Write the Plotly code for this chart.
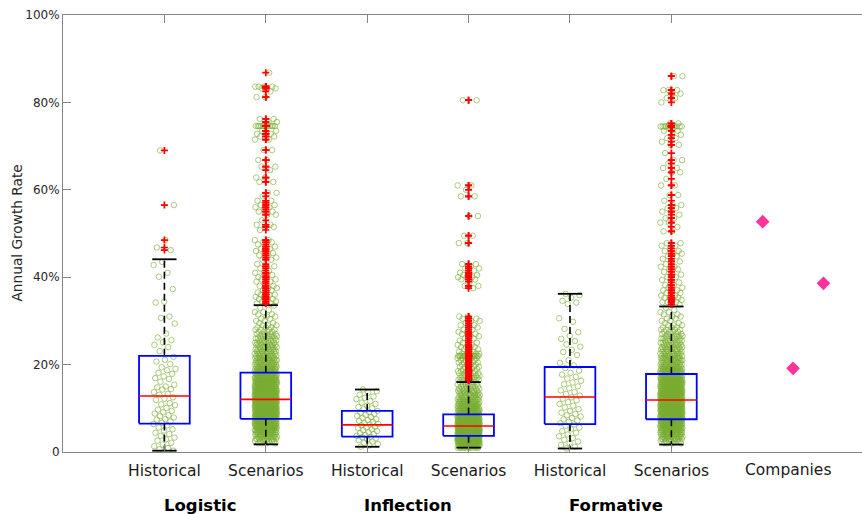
import numpy as np
import plotly.graph_objects as go

# ---------------- data (values in %) ----------------
categories = ["Historical", "Scenarios", "Historical", "Scenarios", "Historical", "Scenarios"]
groups = ["Logistic", "Inflection", "Formative"]
positions = [1, 2, 3, 4, 5, 6]

# box statistics
q1 = [6.5, 7.6, 3.5, 3.7, 6.4, 7.5]
median = [12.8, 12.05, 6.2, 5.95, 12.6, 11.9]
q3 = [22.0, 18.15, 9.4, 8.6, 19.45, 17.85]
whisk_lo = [0.3, 1.75, 1.2, 1.0, 0.8, 1.7]
whisk_hi = [44.1, 33.6, 14.3, 16.0, 36.2, 33.3]

hist_logistic = [69.0, 56.5, 48.5, 46.8, 46.2, 43.5, 42.8, 41.0, 40.1, 37.3, 34.4, 34.2, 31.0,
                 30.7, 29.4, 27.1, 26.2, 25.6, 25.1, 24.5, 24.0, 23.1, 21.8, 21.1, 20.7, 20.1,
                 19.4, 19.0, 18.7, 18.1, 17.9, 17.3, 16.9, 16.7, 16.1, 15.4, 15.0, 14.8, 14.4,
                 14.3, 13.7, 13.3, 13.1, 12.5, 12.2, 11.9, 11.2, 10.9, 10.7, 10.1, 9.7, 9.4,
                 9.1, 8.8, 8.4, 8.2, 7.9, 7.5, 7.4, 7.0, 6.7, 6.4, 6.1, 5.6, 5.2, 4.9, 4.4,
                 4.1, 3.7, 3.3, 2.9, 2.6, 2.1, 1.7, 1.3, 0.9, 0.6, 0.3]

hist_inflection = [14.3, 13.9, 13.6, 13.1, 12.7, 12.4, 12.1, 11.6, 11.3, 11.0, 10.6, 10.3, 10.0,
                   9.8, 9.4, 9.2, 9.0, 8.7, 8.5, 8.3, 8.0, 7.8, 7.5, 7.3, 7.1, 6.9, 6.6, 6.4,
                   6.3, 6.1, 5.8, 5.6, 5.5, 5.2, 5.0, 4.8, 4.5, 4.3, 4.1, 3.9, 3.7, 3.5, 3.4,
                   3.1, 2.9, 2.7, 2.4, 2.1, 1.8, 1.5, 1.2]

hist_formative = [36.2, 35.9, 35.3, 34.6, 34.2, 33.9, 30.6, 29.8, 28.2, 27.4, 26.6, 25.9, 25.4,
                  24.6, 24.1, 23.4, 22.9, 22.2, 21.0, 20.4, 19.8, 19.2, 18.6, 18.1, 17.7, 17.2,
                  16.8, 16.3, 15.9, 15.5, 15.0, 14.6, 14.1, 13.7, 13.3, 12.9, 12.5, 12.2, 11.8,
                  11.4, 11.0, 10.6, 10.2, 9.8, 9.4, 9.0, 8.7, 8.4, 8.1, 7.8, 7.5, 7.2, 6.9, 6.6,
                  6.3, 6.0, 5.6, 5.2, 4.8, 4.4, 4.0, 3.6, 3.2, 2.8, 2.4, 2.0, 1.6, 1.2, 0.8]

# scenario samples: value (%) and how many points sit at that value
scen_logistic_vals = [2.0, 2.5, 3.0, 3.5, 4.0, 4.5, 5.0, 5.5, 6.0, 6.5, 7.0, 7.5, 8.0, 8.5, 9.0,
                      9.5, 10.0, 10.5, 11.0, 11.5, 12.0, 12.5, 13.0, 13.5, 14.0, 14.5, 15.0, 15.5,
                      16.0, 16.5, 17.0, 17.5, 18.0, 18.5, 19.0, 19.5, 20.0, 20.5, 21.0, 21.5, 22.0,
                      22.5, 23.0, 23.5, 24.0, 24.5, 25.0, 25.5, 26.0, 26.5, 27.0, 27.5, 28.0, 28.5,
                      29.0, 29.5, 30.0, 30.5, 31.0, 31.5, 32.0, 32.5, 33.0, 33.5,
                      34.0, 34.5, 35.0, 35.5, 36.0, 36.5, 37.0, 37.5, 38.0, 38.5, 39.0, 39.5, 40.0,
                      40.5, 41.0, 41.5, 42.0, 42.5, 43.0, 44.0, 44.5, 45.0, 45.5, 46.0, 46.5, 47.0,
                      47.5, 48.0, 48.5, 50.8, 51.5, 52.0, 53.0, 54.3, 55.0, 55.5, 56.0, 56.5, 57.0,
                      57.5, 58.5, 59.3, 61.8, 62.8, 64.5, 65.3, 66.8, 69.1, 71.5, 72.2, 72.8, 73.5,
                      74.6, 75.5, 76.2, 81.2, 82.5, 83.2, 83.6, 86.8]
scen_logistic_counts = [4, 7, 9, 11, 13, 15, 17, 19, 21, 22, 24, 25, 26, 27, 28,
                        28, 29, 29, 29, 29, 29, 28, 28, 27, 26, 25, 24, 23,
                        22, 21, 20, 18, 16, 14, 13, 12, 11, 11, 10, 10, 9,
                        9, 8, 8, 7, 7, 7, 7, 6, 6, 5, 4, 4, 3,
                        3, 2, 2, 2, 2, 2, 2, 1, 1, 1,
                        3, 2, 3, 2, 3, 2, 2, 2, 2, 1, 2, 2, 2,
                        1, 2, 1, 1, 2, 1, 2, 1, 2, 1, 2, 2, 2,
                        1, 2, 2, 1, 2, 2, 1, 2, 2, 1, 2, 2, 1,
                        2, 1, 2, 2, 2, 1, 2, 2, 2, 2, 2, 3, 2,
                        12, 2, 2, 2, 1, 3, 4, 1]

scen_inflection_vals = [1.0, 1.5, 2.0, 2.5, 3.0, 3.5, 4.0, 4.5, 5.0, 5.5, 6.0, 6.5, 7.0, 7.5, 8.0,
                        8.5, 9.0, 9.5, 10.0, 10.5, 11.0, 11.5, 12.0, 12.5, 13.0, 13.5, 14.0, 14.5,
                        15.0, 15.5, 16.0,
                        16.5, 17.0, 17.5, 18.0, 18.5, 19.0, 19.5, 20.0, 20.5, 21.0, 21.5, 22.0, 22.5,
                        23.0, 23.5, 24.0, 24.5, 25.0, 25.5, 26.0, 26.5, 27.0, 27.5, 28.0, 28.5, 29.0,
                        29.5, 30.0, 30.5, 31.0, 37.5, 38.0, 39.0, 39.5, 40.0, 40.5, 41.0, 41.5, 42.0,
                        42.5, 43.0, 47.8, 49.5, 54.0, 58.5, 60.0, 61.0, 80.5]
scen_inflection_counts = [12, 20, 28, 34, 38, 40, 40, 40, 40, 40, 38, 36, 33, 30, 27,
                          24, 20, 17, 15, 14, 13, 12, 11, 10, 9, 8, 8, 7,
                          6, 5, 4,
                          6, 6, 5, 5, 5, 4, 4, 4, 4, 4, 5, 16, 4,
                          3, 3, 3, 2, 2, 2, 2, 2, 2, 2, 2, 2, 2,
                          1, 2, 2, 2, 1, 2, 1, 2, 3, 2, 2, 1, 2,
                          1, 2, 2, 2, 2, 2, 1, 2, 2]

scen_formative_vals = [2.0, 2.5, 3.0, 3.5, 4.0, 4.5, 5.0, 5.5, 6.0, 6.5, 7.0, 7.5, 8.0, 8.5, 9.0,
                       9.5, 10.0, 10.5, 11.0, 11.5, 12.0, 12.5, 13.0, 13.5, 14.0, 14.5, 15.0, 15.5,
                       16.0, 16.5, 17.0, 17.5, 18.0, 18.5, 19.0, 19.5, 20.0, 20.5, 21.0, 21.5, 22.0,
                       22.5, 23.0, 23.5, 24.0, 24.5, 25.0, 25.5, 26.0, 26.5, 27.0, 27.5, 28.0, 28.5,
                       29.0, 29.5, 30.0, 30.5, 31.0, 31.5, 32.0, 32.5, 33.0,
                       33.8, 34.3, 34.8, 35.3, 35.8, 36.4, 37.0, 37.6, 38.2, 38.8, 39.4, 40.0, 40.6,
                       41.2, 41.8, 42.4, 43.0, 43.6, 44.2, 44.8, 45.4, 46.0, 46.6, 47.2, 47.8, 50.5,
                       51.5, 52.5, 53.5, 54.3, 55.0, 55.8, 56.5, 57.5, 58.8, 61.0, 62.5, 64.0, 65.0,
                       66.0, 66.8, 68.4, 70.3, 71.0, 71.8, 72.6, 73.5, 74.5, 75.2, 80.0, 81.0, 82.0,
                       82.8, 86.0]
scen_formative_counts = [4, 7, 10, 12, 13, 16, 17, 19, 21, 22, 24, 25, 26, 27, 28,
                         29, 29, 29, 29, 29, 29, 28, 28, 27, 26, 25, 23, 23,
                         22, 20, 20, 18, 16, 14, 13, 12, 11, 10, 10, 10, 9,
                         9, 8, 8, 7, 7, 7, 6, 6, 6, 5, 4, 4, 3,
                         3, 2, 2, 2, 2, 2, 2, 1, 1,
                         2, 3, 2, 3, 2, 2, 3, 2, 2, 1, 2, 2, 2,
                         1, 2, 2, 1, 2, 1, 2, 2, 2, 1, 2, 2, 2,
                         1, 2, 2, 1, 2, 2, 2, 1, 2, 2, 1, 2, 2,
                         1, 2, 1, 2, 1, 2, 2, 2, 12, 2, 1, 2, 2,
                         3, 2]

company_values = [52.7, 19.15, 38.6]
company_x = [6.9, 7.2, 7.5]

y_tick_vals = [0, 20, 40, 60, 80, 100]
y_tick_text = ["0", "20%", "40%", "60%", "80%", "100%"]

# ---------------- assemble samples ----------------
samples = [
    np.array(hist_logistic),
    np.repeat(scen_logistic_vals, scen_logistic_counts),
    np.array(hist_inflection),
    np.repeat(scen_inflection_vals, scen_inflection_counts),
    np.array(hist_formative),
    np.repeat(scen_formative_vals, scen_formative_counts),
]

JW = 0.22      # total horizontal jitter width (x units)
BW = 0.5       # box width
CW = 0.24      # cap width

fig = go.Figure()

# jittered data points
px_all, py_all = [], []
for pos, s in zip(positions, samples):
    n = len(s)
    off = ((np.arange(n) * 0.6180339887 + 0.31) % 1.0 - 0.5) * JW
    px_all.extend(pos + off)
    py_all.extend(s)
green = "rgba(119,172,48,0.62)"
fig.add_trace(go.Scatter(
    x=px_all, y=py_all, mode="markers",
    marker=dict(symbol="circle-open", size=5.5, color=green,
                line=dict(width=1, color=green)),
    hoverinfo="skip", showlegend=False))

# whiskers (dashed)
wx, wy = [], []
for p, a, b, lo, hi in zip(positions, q1, q3, whisk_lo, whisk_hi):
    wx += [p, p, None, p, p, None]
    wy += [b, hi, None, a, lo, None]
fig.add_trace(go.Scatter(x=wx, y=wy, mode="lines",
                         line=dict(color="black", width=1.6, dash="7px,4px"),
                         hoverinfo="skip", showlegend=False))

# caps
cx, cy = [], []
for p, lo, hi in zip(positions, whisk_lo, whisk_hi):
    cx += [p - CW / 2, p + CW / 2, None, p - CW / 2, p + CW / 2, None]
    cy += [hi, hi, None, lo, lo, None]
fig.add_trace(go.Scatter(x=cx, y=cy, mode="lines",
                         line=dict(color="black", width=1.8),
                         hoverinfo="skip", showlegend=False))

# boxes
bx, by = [], []
for p, a, b in zip(positions, q1, q3):
    bx += [p - BW / 2, p + BW / 2, p + BW / 2, p - BW / 2, p - BW / 2, None]
    by += [a, a, b, b, a, None]
fig.add_trace(go.Scatter(x=bx, y=by, mode="lines",
                         line=dict(color="#0000FF", width=1.8),
                         hoverinfo="skip", showlegend=False))

# medians
mx, my = [], []
for p, m in zip(positions, median):
    mx += [p - BW / 2, p + BW / 2, None]
    my += [m, m, None]
fig.add_trace(go.Scatter(x=mx, y=my, mode="lines",
                         line=dict(color="#FF0000", width=1.6),
                         hoverinfo="skip", showlegend=False))

# outliers
ox, oy = [], []
for p, s, lo, hi in zip(positions, samples, whisk_lo, whisk_hi):
    o = s[(s > hi) | (s < lo)]
    ox += [p] * len(o)
    oy += list(o)
fig.add_trace(go.Scatter(x=ox, y=oy, mode="markers",
                         marker=dict(symbol="cross-thin", size=5,
                                     line=dict(width=1.7, color="#FF0000")),
                         hoverinfo="skip", showlegend=False))

# companies
fig.add_trace(go.Scatter(x=company_x, y=company_values, mode="markers",
                         marker=dict(symbol="diamond", size=10.5, color="#FF3399",
                                     line=dict(width=0)),
                         hoverinfo="skip", showlegend=False))

W, H = 862, 514
L, R, T, B = 63, 0, 15, 62
plot_h = H - T - B
plot_w = W - L - R

axis_col = "#858585"
fig.update_layout(
    width=W, height=H,
    margin=dict(l=L, r=R, t=T, b=B),
    paper_bgcolor="white", plot_bgcolor="white",
    font=dict(family="DejaVu Sans", color="#262626"),
    showlegend=False,
    xaxis=dict(range=[0, 7.88], tickmode="array", tickvals=positions, ticktext=categories,
               ticks="inside", ticklen=8, tickwidth=1, tickcolor=axis_col,
               showline=True, linecolor=axis_col, linewidth=1, mirror="ticks",
               showgrid=False, zeroline=False, tickfont=dict(size=15.5, color="#1a1a1a"),
               ticklabelstandoff=4),
    yaxis=dict(range=[0, 100], tickmode="array", tickvals=y_tick_vals, ticktext=y_tick_text,
               ticks="inside", ticklen=8, tickwidth=1, tickcolor=axis_col,
               showline=True, linecolor=axis_col, linewidth=1, mirror=False,
               showgrid=False, zeroline=False, tickfont=dict(size=12, color="#262626")),
)

annotations = []
# y-axis title
annotations.append(dict(text="Annual Growth Rate", xref="paper", yref="paper",
                        x=(16 - L) / plot_w, y=0.5, xanchor="center", yanchor="middle",
                        textangle=-90, showarrow=False,
                        font=dict(size=13.7, color="#262626")))
# Companies label
annotations.append(dict(text="Companies", xref="x", yref="paper",
                        x=7.15, y=-(470.5 - (H - B)) / plot_h, xanchor="center", yanchor="middle",
                        showarrow=False, font=dict(size=15.5, color="#1a1a1a")))
# group labels
for g, gx in zip(groups, [1.35, 3.40, 5.45]):
    annotations.append(dict(text="<b>" + g + "</b>", xref="x", yref="paper",
                            x=gx, y=-(505 - (H - B)) / plot_h, xanchor="center",
                            yanchor="middle", showarrow=False,
                            font=dict(size=16.5, color="black")))
fig.update_layout(annotations=annotations)

fig.write_html("out.html")
